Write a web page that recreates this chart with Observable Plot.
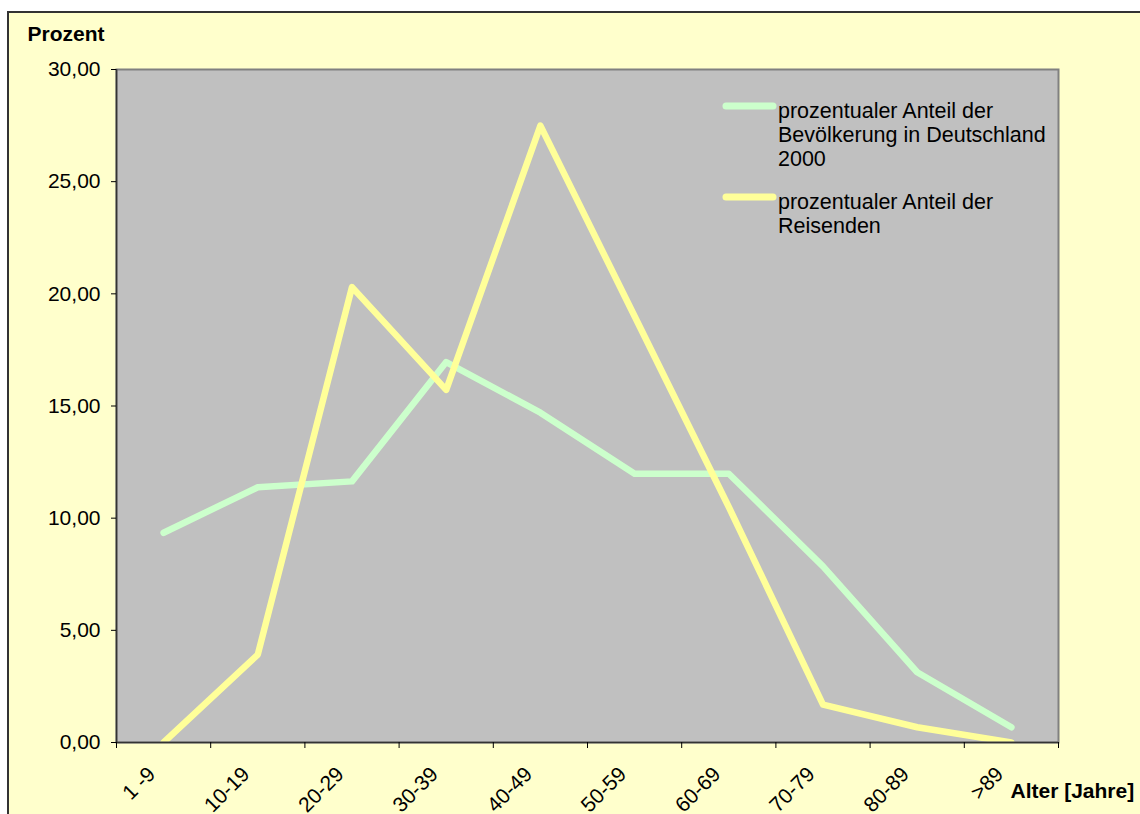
<!DOCTYPE html>
<html>
<head>
<meta charset="utf-8">
<script src="https://cdn.jsdelivr.net/npm/d3@7"></script>
<script src="https://cdn.jsdelivr.net/npm/@observablehq/plot@0.6"></script>
<style>
  html, body { margin: 0; padding: 0; background: #ffffff; }
  #chart {
    position: absolute; left: 7px; top: 11px;
    width: 1131px; height: 801px;
    background: #FFFFCC;
    border-top: 2px solid #333333;
    border-left: 2px solid #333333;
    overflow: hidden;
  }
  #chart svg { overflow: visible; }
</style>
</head>
<body>
<div id="chart"></div>
<script>
// Altersgruppen (Kategorien der x-Achse)
const ageGroups = ["1 -9", "10-19", "20-29", "30-39", "40-49", "50-59", "60-69", "70-79", "80-89", ">89"];

// Prozentualer Anteil der Bevölkerung in Deutschland 2000
const bevoelkerung = [9.35, 11.38, 11.64, 16.96, 14.7, 11.98, 11.98, 7.85, 3.13, 0.68];

// Prozentualer Anteil der Reisenden
const reisende = [0, 3.92, 20.3, 15.72, 27.5, 19.0, 10.5, 1.69, 0.68, 0];

// Teilstriche der y-Achse
const yTicks = [0, 5, 10, 15, 20, 25, 30];

// Legende
const seriesNames = [
  ["prozentualer Anteil der", "Bevölkerung in Deutschland", "2000"],
  ["prozentualer Anteil der", "Reisenden"]
];
const seriesColors = ["#CCFFCC", "#FFFF99"];

const axisTitleY = "Prozent";
const axisTitleX = "Alter [Jahre]";

const font = "Arial, 'Liberation Sans', Helvetica, sans-serif";
const fmt = d => d.toFixed(2).replace(".", ",");

const rowsOf = values => ageGroups.map((g, i) => ({group: g, idx: i, value: values[i]}));
const lineStyle = {strokeWidth: 6.5, strokeLinecap: "round", strokeLinejoin: "round", clip: "frame"};

const plot = Plot.plot({
  width: 1131,
  height: 801,
  marginLeft: 107,
  marginTop: 56,
  marginRight: 82,
  marginBottom: 72,
  style: {fontFamily: font, fontSize: "21px", background: "transparent", color: "#000"},
  x: {type: "linear", domain: [0, ageGroups.length]},
  y: {domain: [0, 30]},
  marks: [
    Plot.frame({fill: "#C0C0C0"}),
    Plot.line(rowsOf(bevoelkerung), {x: d => d.idx + 0.5, y: "value", stroke: seriesColors[0], ...lineStyle}),
    Plot.line(rowsOf(reisende), {x: d => d.idx + 0.5, y: "value", stroke: seriesColors[1], ...lineStyle}),
    Plot.frame({stroke: "#808080", strokeWidth: 2}),
    Plot.ruleX([0], {stroke: "#333333", strokeWidth: 1.6}),
    Plot.ruleY([0], {stroke: "#333333", strokeWidth: 1.6}),
    Plot.axisY({
      ticks: yTicks, tickFormat: fmt, tickSize: 5, tickPadding: 11,
      fontSize: 21, stroke: "#000", label: null
    }),
    Plot.axisX({
      ticks: d3.range(ageGroups.length + 1), tickSize: 6,
      tickFormat: () => "", stroke: "#000", label: null
    }),
    Plot.text(ageGroups, {
      x: (d, i) => i + 0.5, text: d => d, frameAnchor: "bottom",
      rotate: -45, textAnchor: "end", lineAnchor: "bottom",
      dx: -7, dy: 33, fontSize: 21, fill: "#000"
    }),
    Plot.text([axisTitleY], {
      text: d => d, frameAnchor: "top-left", textAnchor: "start", lineAnchor: "bottom",
      dx: -89, dy: -29, fontSize: 21, fontWeight: "bold", fill: "#000"
    }),
    Plot.text([axisTitleX], {
      text: d => d, frameAnchor: "bottom-right", textAnchor: "start", lineAnchor: "bottom",
      dx: -48, dy: 55, fontSize: 21, fontWeight: "bold", fill: "#000"
    })
  ]
});

// Legende innerhalb der Zeichenfläche
const svg = d3.select(plot);
const legend = svg.append("g")
  .attr("font-family", font)
  .attr("font-size", 21.5)
  .attr("text-anchor", "start");
const entries = [
  {swatchY: 93, baseline: 105},
  {swatchY: 184, baseline: 196}
];
entries.forEach((e, k) => {
  legend.append("line")
    .attr("x1", 717).attr("x2", 764)
    .attr("y1", e.swatchY).attr("y2", e.swatchY)
    .attr("stroke", seriesColors[k]).attr("stroke-width", 7)
    .attr("stroke-linecap", "round");
  const t = legend.append("text")
    .attr("x", 769).attr("y", e.baseline)
    .attr("fill", "#000").attr("text-anchor", "start");
  seriesNames[k].forEach((line, j) => {
    t.append("tspan").attr("x", 769).attr("dy", j === 0 ? 0 : 24).text(line);
  });
});

document.getElementById("chart").appendChild(plot);
</script>
</body>
</html>
